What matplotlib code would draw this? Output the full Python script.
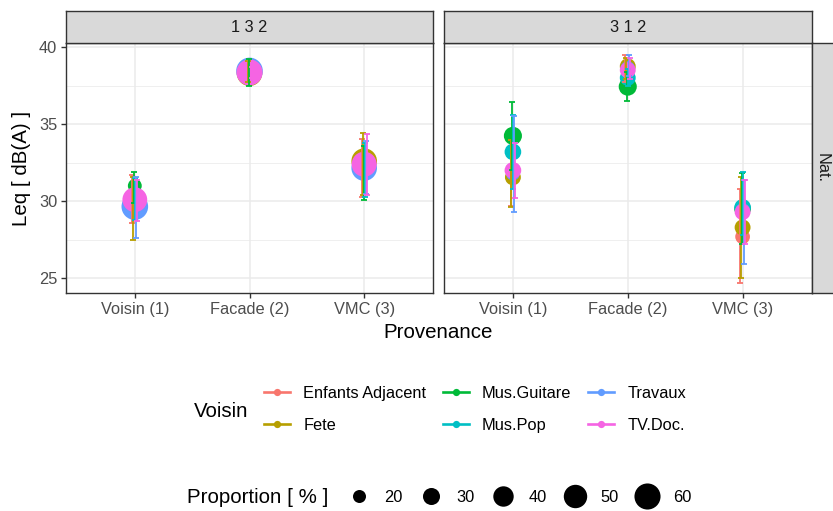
import numpy as np
import matplotlib
matplotlib.use("Agg")
import matplotlib.pyplot as plt
from matplotlib.lines import Line2D

plt.rcParams['font.family'] = ['Liberation Sans', 'DejaVu Sans']

# ---------------------------------------------------------------- data
groups = ["Enfants Adjacent", "Fete", "Mus.Guitare", "Mus.Pop", "Travaux", "TV.Doc."]
colors = ["#F8766D", "#B79F00", "#00BA38", "#00BFC4", "#619CFF", "#F564E3"]
provenance = ["Voisin (1)", "Facade (2)", "VMC (3)"]
panels = ["1 3 2", "3 1 2"]
row_strip = "Nat."

# mean Leq per group, one value per provenance (Voisin, Facade, VMC)
mean_132 = {
    "Enfants Adjacent": [30.0, 38.30, 32.30],
    "Fete":             [29.8, 38.30, 32.60],
    "Mus.Guitare":      [31.0, 38.35, 32.20],
    "Mus.Pop":          [30.2, 38.35, 32.30],
    "Travaux":          [29.65, 38.45, 32.15],
    "TV.Doc.":          [30.1, 38.35, 32.40],
}
low_132 = {
    "Enfants Adjacent": [28.6, np.nan, 30.25],
    "Fete":             [27.5, 37.75, 30.40],
    "Mus.Guitare":      [29.9, 37.50, 30.05],
    "Mus.Pop":          [28.8, np.nan, 30.30],
    "Travaux":          [27.6, np.nan, 30.50],
    "TV.Doc.":          [28.7, 38.00, 30.40],
}
high_132 = {
    "Enfants Adjacent": [31.7, np.nan, 34.05],
    "Fete":             [31.6, 39.10, 34.45],
    "Mus.Guitare":      [31.9, 39.20, 33.60],
    "Mus.Pop":          [31.5, np.nan, 33.80],
    "Travaux":          [31.6, np.nan, 33.90],
    "TV.Doc.":          [31.4, 38.70, 34.35],
}
prop_132 = {
    "Enfants Adjacent": [20, 52, 50],
    "Fete":             [22, 58, 58],
    "Mus.Guitare":      [22, 50, 48],
    "Mus.Pop":          [20, 52, 50],
    "Travaux":          [62, 62, 58],
    "TV.Doc.":          [55, 60, 56],
}

mean_312 = {
    "Enfants Adjacent": [31.7, 38.60, 27.70],
    "Fete":             [31.55, 38.75, 28.30],
    "Mus.Guitare":      [34.24, 37.43, 29.50],
    "Mus.Pop":          [33.2, 38.00, 29.60],
    "Travaux":          [31.8, 38.60, 29.40],
    "TV.Doc.":          [32.0, 38.50, 29.30],
}
low_312 = {
    "Enfants Adjacent": [29.7, 37.75, 24.70],
    "Fete":             [29.6, 37.90, 25.00],
    "Mus.Guitare":      [32.0, 36.50, 27.20],
    "Mus.Pop":          [30.8, 37.50, 27.80],
    "Travaux":          [29.27, 38.10, 25.96],
    "TV.Doc.":          [30.2, 37.90, 27.20],
}
high_312 = {
    "Enfants Adjacent": [34.0, 39.48, 30.80],
    "Fete":             [34.0, 39.30, 31.60],
    "Mus.Guitare":      [36.45, 38.40, 31.80],
    "Mus.Pop":          [35.56, 38.60, 31.90],
    "Travaux":          [35.5, 39.50, 31.40],
    "TV.Doc.":          [33.8, 39.30, 31.40],
}
prop_312 = {
    "Enfants Adjacent": [22, 24, 24],
    "Fete":             [27, 27, 27],
    "Mus.Guitare":      [33, 33, 29],
    "Mus.Pop":          [29, 27, 29],
    "Travaux":          [22, 24, 24],
    "TV.Doc.":          [29, 27, 27],
}

size_breaks = [20, 30, 40, 50, 60]

# ---------------------------------------------------------------- helpers
W, H = 833, 511
DPI = 100


def size_to_area(p):
    """Proportion (%) -> scatter marker area in pt^2 (diameter grows with sqrt)."""
    d_px = 13.0 + 4.0 * (np.sqrt(np.asarray(p, float)) - np.sqrt(20.0))
    return (d_px * 72.0 / DPI) ** 2


def px_rect(x0, y0, x1, y1):
    return [x0 / W, 1 - y1 / H, (x1 - x0) / W, (y1 - y0) / H]


GRID = "#EBEBEB"
DARK = "#333333"
TICKTXT = "#4D4D4D"
FS_TICK = 11.8
FS_TITLE = 14.8

fig = plt.figure(figsize=(W / DPI, H / DPI), dpi=DPI)
fig.patch.set_facecolor("white")

panel_px = [(66, 43, 433, 293), (444, 43, 811.5, 293)]
datasets = [(mean_132, low_132, high_132, prop_132),
            (mean_312, low_312, high_312, prop_312)]

dodge = 0.05
xs = np.arange(1, len(provenance) + 1)
axes = []
for k, ((x0, y0, x1, y1), (mean, low, high, prop)) in enumerate(zip(panel_px, datasets)):
    ax = fig.add_axes(px_rect(x0, y0, x1, y1))
    axes.append(ax)
    ax.set_xlim(0.4, 3.6)
    ax.set_ylim(24.05, 40.26)
    ax.set_facecolor("white")
    ax.set_yticks([25, 30, 35, 40])
    ax.set_yticks([27.5, 32.5, 37.5], minor=True)
    ax.set_xticks(xs)
    ax.set_xticklabels(provenance)
    ax.grid(True, which="major", color=GRID, lw=1.1, zorder=0)
    ax.grid(True, which="minor", axis="y", color=GRID, lw=0.55, zorder=0)
    ax.set_axisbelow(True)
    for sp in ax.spines.values():
        sp.set_color(DARK)
        sp.set_linewidth(1.0)
    ax.tick_params(which="major", length=3.7, width=1.0, color=DARK,
                   labelsize=FS_TICK, labelcolor=TICKTXT, pad=2.6)
    ax.tick_params(which="minor", length=0)
    if k > 0:
        ax.tick_params(axis="y", labelleft=False, length=0)

    # points first, then slightly dodged error bars on top
    for i, g in enumerate(groups):
        ax.scatter(xs, mean[g], s=size_to_area(prop[g]), color=colors[i],
                   linewidths=0, zorder=2 + i * 0.01)
    for i, g in enumerate(groups):
        off = (i - (len(groups) - 1) / 2) * dodge / len(groups)
        m = np.asarray(mean[g], float)
        lo = np.asarray(low[g], float)
        hi = np.asarray(high[g], float)
        ok = ~np.isnan(lo)
        ax.errorbar((xs + off)[ok], m[ok], yerr=[m[ok] - lo[ok], hi[ok] - m[ok]],
                    fmt="none", ecolor=colors[i], elinewidth=1.3, capsize=1.9,
                    capthick=1.3, zorder=3 + i * 0.01)

    # facet strip on top
    sx = fig.add_axes(px_rect(x0, 11, x1, 43))
    sx.set_facecolor("#D9D9D9")
    sx.set_xticks([]); sx.set_yticks([])
    for sp in sx.spines.values():
        sp.set_color(DARK); sp.set_linewidth(1.0)
    sx.text(0.5, 0.5, panels[k], ha="center", va="center", fontsize=FS_TICK,
            color="#1A1A1A", transform=sx.transAxes)

# row strip on the right
rx = fig.add_axes(px_rect(811.5, 43, 835, 293))
rx.set_facecolor("#D9D9D9")
rx.set_xticks([]); rx.set_yticks([])
for sp in rx.spines.values():
    sp.set_color(DARK); sp.set_linewidth(1.0)
rx.text(822 / W, 1 - 168 / H, row_strip, ha="center", va="center", rotation=-90,
        fontsize=FS_TICK, color="#1A1A1A", transform=fig.transFigure)

# axis titles
fig.text(438.5 / W, 1 - 332 / H, "Provenance", ha="center", va="center",
         fontsize=FS_TITLE, color="black")
fig.text(22 / W, 1 - 168 / H, "Leq [ dB(A) ]", ha="center", va="center",
         rotation=90, fontsize=FS_TITLE, color="black")

# colour legend
handles = [Line2D([], [], color=c, lw=1.9, marker="o", markersize=5.2,
                  markeredgewidth=0) for c in colors]
leg1 = fig.legend(handles, groups, ncol=3, loc="center left",
                  bbox_to_anchor=(264 / W, 1 - 409.5 / H), frameon=False,
                  borderpad=0, borderaxespad=0, handlelength=1.6,
                  handletextpad=0.8, columnspacing=1.0, labelspacing=1.05,
                  fontsize=FS_TICK)
for t in leg1.get_texts():
    t.set_color("black")
fig.text(194 / W, 1 - 411 / H, "Voisin", ha="left", va="center",
         fontsize=FS_TITLE, color="black")

# size legend
size_handles = [Line2D([], [], ls="", marker="o", color="black",
                       markersize=np.sqrt(size_to_area(b)), markeredgewidth=0)
                for b in size_breaks]
leg2 = fig.legend(size_handles, [str(b) for b in size_breaks], ncol=5,
                  loc="center left", bbox_to_anchor=(340.5 / W, 1 - 497 / H),
                  frameon=False, borderpad=0, borderaxespad=0, handlelength=2.2,
                  handletextpad=0.46, columnspacing=0.63, fontsize=FS_TICK)
fig.text(187 / W, 1 - 497 / H, "Proportion [ % ]", ha="left", va="center",
         fontsize=FS_TITLE, color="black")

fig.savefig("out.png", dpi=DPI)
